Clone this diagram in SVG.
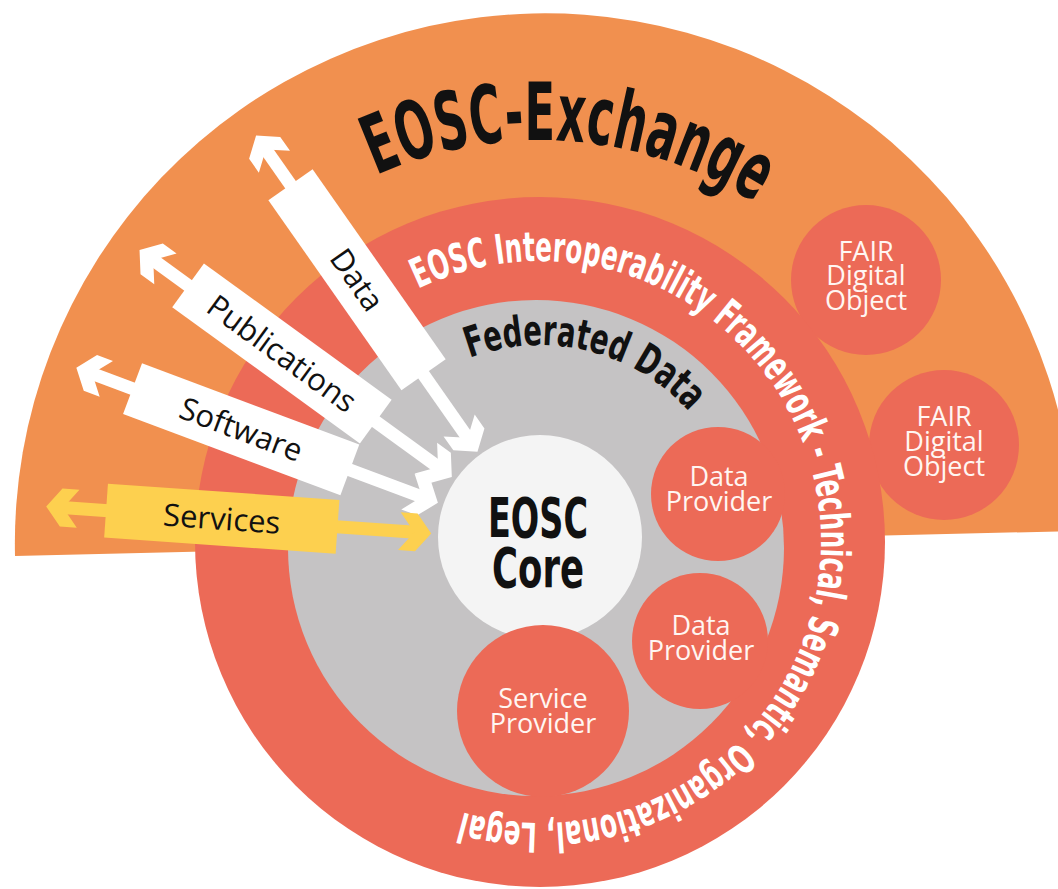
<svg xmlns="http://www.w3.org/2000/svg" width="1058" height="889" viewBox="0 0 1058 889">
<defs>
<style>
.cond{font-family:"DejaVu Sans Condensed","DejaVu Sans",sans-serif;font-weight:bold;font-stretch:condensed}
.lbl{font-family:"Open Sans","Noto Sans",sans-serif;fill:#fff6f2;text-anchor:middle;font-size:27px}
.alb{font-family:"Open Sans","Noto Sans",sans-serif;fill:#111;text-anchor:middle;font-size:31px}
.red{fill:#ec6a57}
</style>
<path id="pEx" d="M140,540 A400,400 0 0 1 940,540"/>
<path id="pFd" d="M340,545 A200,200 0 0 1 740,545"/>
<path id="pIo" d="M259,542 A281,281 0 0 1 821,542 A281,281 0 0 1 259,542"/>
<g id="arrowShape">
<rect x="61" y="534.5" width="354" height="13"/>
<polygon points="45,541 60,522 77,522 62,541 77,560 60,560"/>
<polygon points="431,541 416,522 399,522 414,541 399,560 416,560"/>
<rect x="105" y="514" width="232" height="54"/>
</g>
</defs>

<g id="exchange">
<path d="M15,556 A530,530 0 0 1 1075,531 Z" fill="#f1904f"/>
<text class="cond" font-size="81" fill="#111" text-anchor="middle"><textPath href="#pEx" startOffset="657" textLength="396" lengthAdjust="spacingAndGlyphs">EOSC-Exchange</textPath></text>
</g>

<g id="fdo1"><circle cx="866" cy="280" r="75" class="red"/>
<text class="lbl" x="866" y="261">FAIR</text><text class="lbl" x="866" y="285">Digital</text><text class="lbl" x="866" y="310">Object</text></g>
<g id="fdo2"><circle cx="944" cy="445" r="75" class="red"/>
<text class="lbl" x="944" y="426">FAIR</text><text class="lbl" x="944" y="451">Digital</text><text class="lbl" x="944" y="476">Object</text></g>

<g id="interoperability">
<circle cx="540" cy="542" r="345" class="red"/>
<text class="cond" font-size="41" fill="#fff"><textPath href="#pIo" startOffset="315" textLength="1087" lengthAdjust="spacingAndGlyphs">EOSC Interoperability Framework - Technical, Semantic, Organizational, Legal</textPath></text>
</g>

<g id="federated">
<circle cx="536" cy="548" r="248" fill="#c5c3c4"/>
<text class="cond" font-size="42" fill="#111" text-anchor="middle"><textPath href="#pFd" startOffset="362" textLength="240" lengthAdjust="spacingAndGlyphs">Federated Data</textPath></text>
</g>

<g id="core">
<circle cx="540" cy="537" r="102" fill="#f4f4f4"/>
<text class="cond" font-size="56" fill="#111" text-anchor="middle" x="538" y="537" textLength="100" lengthAdjust="spacingAndGlyphs">EOSC</text>
<text class="cond" font-size="56" fill="#111" text-anchor="middle" x="538" y="587" textLength="92" lengthAdjust="spacingAndGlyphs">Core</text>
</g>

<g id="dataProvider1"><circle cx="718" cy="494" r="67" class="red"/>
<text class="lbl" x="719" y="486">Data</text><text class="lbl" x="719" y="511">Provider</text></g>
<g id="dataProvider2"><circle cx="700" cy="641" r="68" class="red"/>
<text class="lbl" x="701" y="635">Data</text><text class="lbl" x="701" y="660">Provider</text></g>
<g id="serviceProvider"><circle cx="543" cy="711" r="86" class="red"/>
<text class="lbl" x="543" y="708">Service</text><text class="lbl" x="543" y="733">Provider</text></g>

<g id="connectors">
<g id="arrowData" transform="rotate(55 540 541)"><use href="#arrowShape" fill="#fff"/><text class="alb" x="221" y="552">Data</text></g>
<g id="arrowPublications" transform="rotate(36 540 541)"><use href="#arrowShape" fill="#fff"/><text class="alb" x="221" y="552">Publications</text></g>
<g id="arrowSoftware" transform="rotate(20.5 540 541)"><use href="#arrowShape" fill="#fff"/><text class="alb" x="221" y="552">Software</text></g>
<g id="arrowServices" transform="rotate(4 540 541)"><use href="#arrowShape" fill="#fdd04f"/><text class="alb" x="221" y="552">Services</text></g>
</g>
</svg>
